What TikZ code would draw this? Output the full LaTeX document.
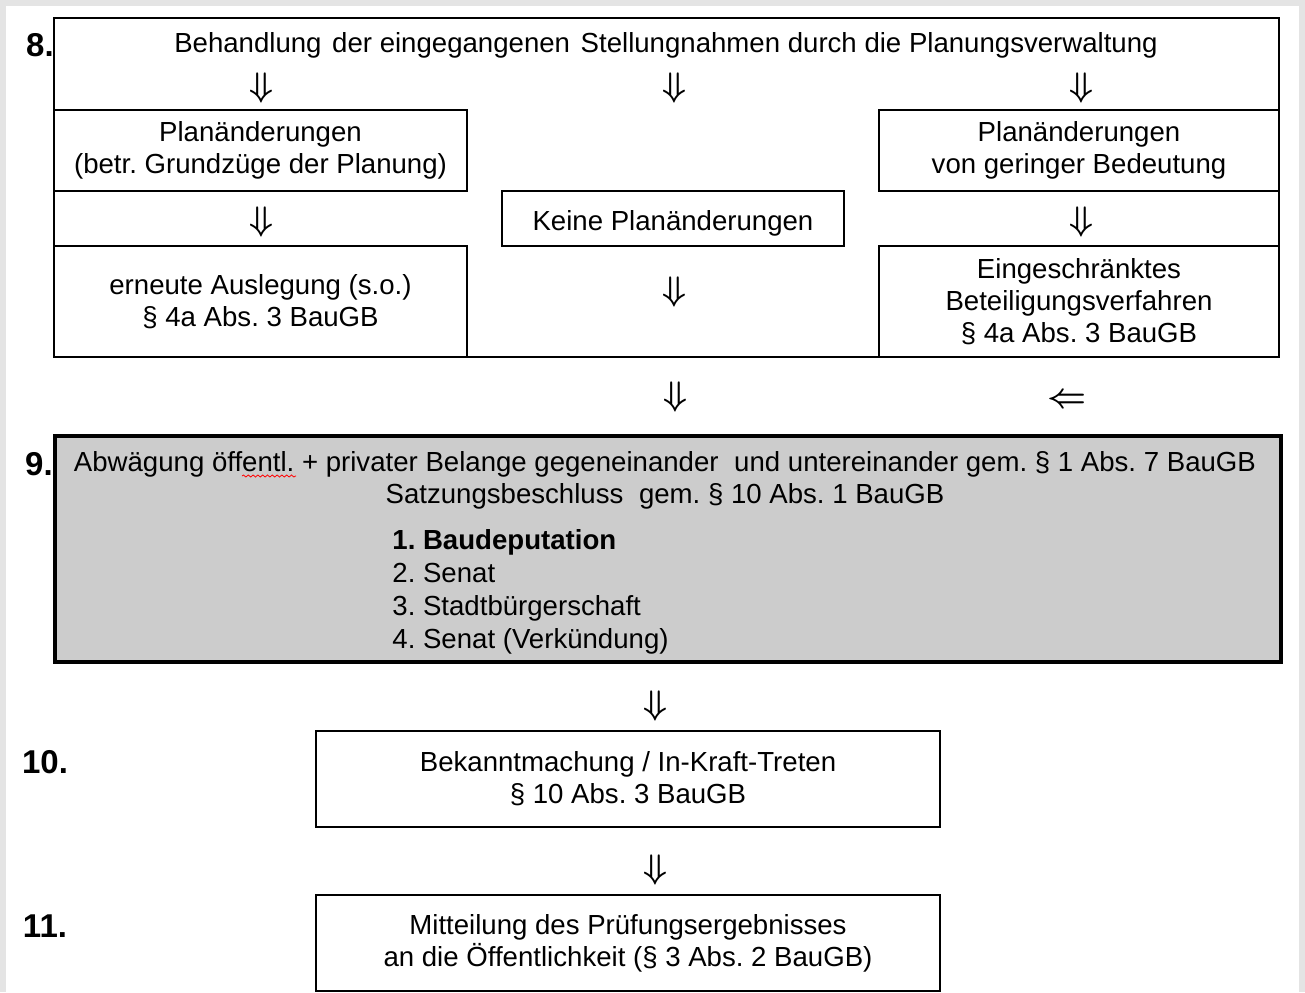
\RequirePackage{fix-cm}
\documentclass[tikz,border=0pt]{standalone}
\usepackage{fontspec}
\setmainfont{Liberation Sans}
\usetikzlibrary{decorations.pathmorphing}
\definecolor{framegray}{HTML}{E4E4E4}
\definecolor{boxgray}{HTML}{CCCCCC}
\frenchspacing
\newcommand{\wgap}{\hspace{4pt}}
\newcommand{\sgap}{\hspace{1.5pt}}
\begin{document}
\begin{tikzpicture}[x=0.5pt,y=-0.5pt,
  txt/.style={font=\fontsize{13.8}{16}\selectfont, inner sep=0pt, align=center},
  box/.style={draw, line width=0.75pt, inner sep=0pt, align=center, font=\fontsize{13.8}{16}\selectfont},
  arr/.style={inner sep=0pt, font=\fontsize{17}{18}\selectfont\boldmath},
  num/.style={inner sep=0pt, font=\fontsize{16.5}{18}\selectfont\bfseries}]
\fill[framegray] (0,0) rectangle (1305,992);
\fill[white] (6,6) rectangle (1299,992);
\useasboundingbox (0,0) rectangle (1305,992);

% step 8
\node[box, minimum width=612.5pt, minimum height=169.5pt] (b8) at (666.5,187.5) {};
\node[txt] (t8) at (666,45) {Behandlung\sgap{} der eingegangenen\sgap{} Stellungnahmen durch die Planungsverwaltung};
\node[box, minimum width=206.5pt, minimum height=40.5pt] (l1) at (260.5,150.5) {Planänderungen\\(betr. Grundzüge der Planung)};
\node[box, minimum width=206.5pt, minimum height=55.5pt] (l2) at (260.5,301.5) {erneute Auslegung (s.o.)\\§ 4a Abs. 3 BauGB};
\node[box, minimum width=171pt, minimum height=27.5pt] (m1) at (673,218.5) {\raisebox{-2.5pt}[\height][\depth]{Keine Planänderungen}};
\node[box, minimum width=200pt, minimum height=40.5pt] (r1) at (1079,150.5) {Planänderungen\\von geringer Bedeutung};
\node[box, minimum width=200pt, minimum height=55.5pt] (r2) at (1079,301.5) {Eingeschränktes\\Beteiligungsverfahren\\§ 4a Abs. 3 BauGB};

\node[arr] (a1) at (261,88) {$\Downarrow$};
\node[arr] (a2) at (674,88) {$\Downarrow$};
\node[arr] (a3) at (1081,88) {$\Downarrow$};
\node[arr] (a4) at (261,222) {$\Downarrow$};
\node[arr] (a5) at (1081,222) {$\Downarrow$};
\node[arr] (a6) at (674,292) {$\Downarrow$};
\node[arr] (a7) at (675,397) {$\Downarrow$};
\node[arr] (a8) at (1067,401) {$\Leftarrow$};

% step 9
\node[box, fill=boxgray, line width=1.6pt, minimum width=613pt, minimum height=113pt] (b9) at (668,549) {};
\node[txt] (t9) at (665,480) {Abwägung öffentl. + privater Belange gegeneinander\wgap{} und untereinander gem. § 1 Abs. 7 BauGB\\Satzungsbeschluss\wgap{} gem. § 10 Abs. 1 BauGB};
\node[txt, align=left, anchor=west, font=\fontsize{13.8}{16.4}\selectfont] (list) at (392,592) {\textbf{1. Baudeputation}\\2. Senat\\3. Stadtbürgerschaft\\4. Senat (Verkündung)};
\draw[red, line width=0.4pt, decorate, decoration={snake, amplitude=0.5pt, segment length=2.4pt}] (242,476) -- (296,476);

\node[arr] (a9) at (655,706) {$\Downarrow$};
% step 10
\node[box, minimum width=312pt, minimum height=48pt] (b10) at (628,779) {Bekanntmachung / In-Kraft-Treten\\§ 10 Abs. 3 BauGB};
\node[arr] (a10) at (655,870) {$\Downarrow$};
% step 11
\node[box, minimum width=312pt, minimum height=48pt] (b11) at (628,943) {Mitteilung des Prüfungsergebnisses\\an die Öffentlichkeit (§ 3 Abs. 2 BauGB)};

\node[num] (n8) at (40,45) {8.};
\node[num] (n9) at (39,464) {9.};
\node[num] (n10) at (45,762) {10.};
\node[num] (n11) at (45,926) {11.};
\end{tikzpicture}
\end{document}
